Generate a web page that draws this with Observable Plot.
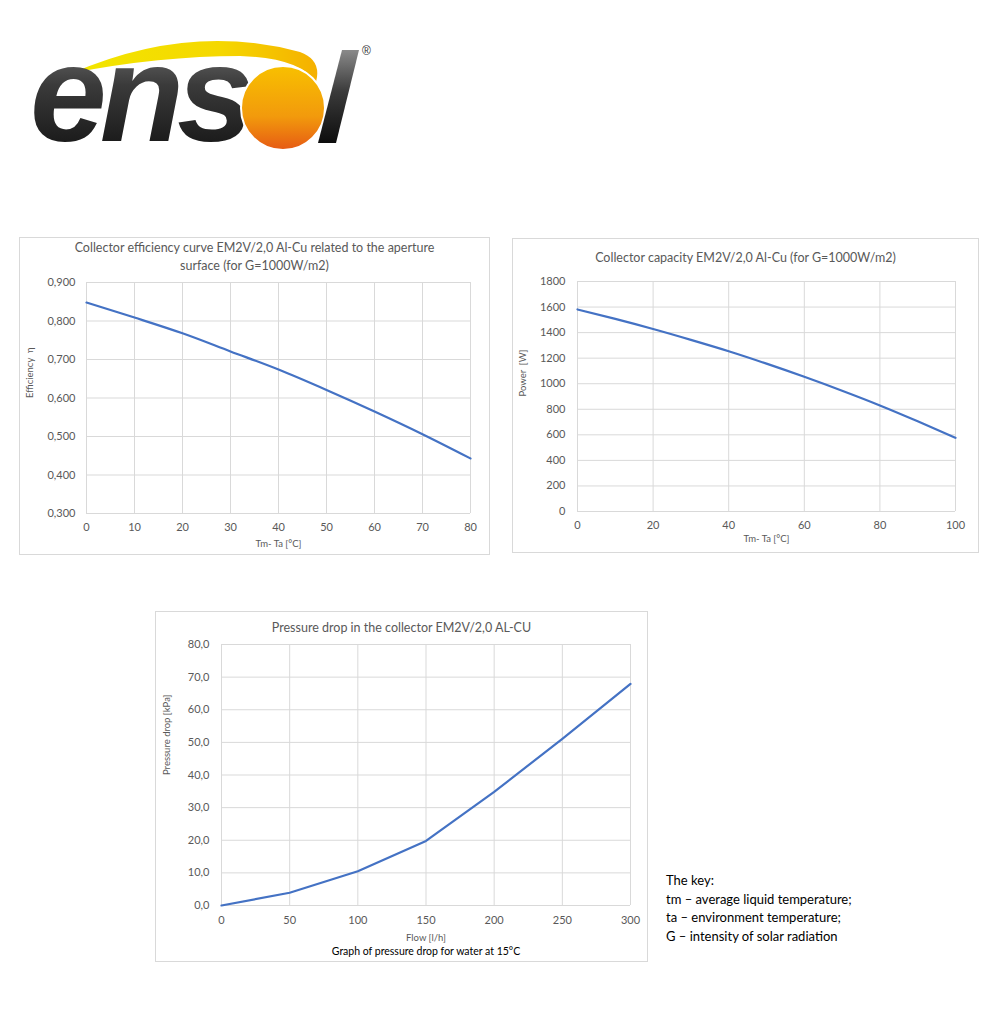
<!DOCTYPE html>
<html><head><meta charset="utf-8">
<script src="https://cdn.jsdelivr.net/npm/d3@7"></script>
<script src="https://cdn.jsdelivr.net/npm/@observablehq/plot@0.6"></script>
<style>
body{margin:0;background:#fff;font-family:Lato,"Open Sans",sans-serif;}
#page{position:relative;width:1000px;height:1035px;overflow:hidden;}
.box{position:absolute;border:1px solid #d9d9d9;box-sizing:border-box;}
.title{position:absolute;text-align:center;color:#595959;font-size:12.5px;line-height:18px;white-space:nowrap;}
.plotwrap{position:absolute;}
.plotwrap svg{background:transparent;max-width:none;}
#key{position:absolute;left:666px;top:871px;font-size:13px;line-height:18.6px;color:#000;}
#logo{position:absolute;left:0;top:0;}
</style></head>
<body><div id="page">
<svg id="logo" width="400" height="170" viewBox="0 0 400 170">
  <defs>
    <linearGradient id="gDark" x1="0" y1="0" x2="0" y2="1">
      <stop offset="0" stop-color="#8a8a8a"/><stop offset="0.45" stop-color="#3a3a3a"/><stop offset="1" stop-color="#0d0d0d"/>
    </linearGradient>
    <linearGradient id="gSun" x1="0" y1="0" x2="0" y2="1">
      <stop offset="0" stop-color="#f8c000"/><stop offset="0.6" stop-color="#f29a0c"/><stop offset="1" stop-color="#e65a14"/>
    </linearGradient>
    <linearGradient id="gSwoosh" x1="0" y1="0" x2="1" y2="0">
      <stop offset="0" stop-color="#f2e600"/><stop offset="0.6" stop-color="#f5d800"/><stop offset="1" stop-color="#f5b000"/>
    </linearGradient>
  </defs>
  <path d="M72 73 Q190 22 300 52 Q322 60 316 82 Q300 58 240 56 Q160 56 72 73 Z" fill="url(#gSwoosh)"/>
  <text x="30" y="141" font-family="Liberation Sans, Arial, sans-serif" font-weight="bold" font-style="italic" font-size="138" letter-spacing="-7" fill="url(#gDark)">ens</text>
  <circle cx="283" cy="108" r="42" fill="url(#gSun)" stroke="#fff" stroke-width="2"/>
  <polygon points="342,50 359,50 336,143 318,143" fill="url(#gDark)"/>
  <text x="362" y="55" font-family="Liberation Sans, Arial, sans-serif" font-size="12" fill="#333">®</text>
</svg>

<div class="box" style="left:19px;top:237px;width:471px;height:318px"></div>
<div class="title" style="left:19px;width:471px;top:239px">Collector efficiency curve EM2V/2,0 Al-Cu related to the aperture<br>surface (for G=1000W/m2)</div>
<div class="plotwrap" id="c1" style="left:19px;top:274px"></div>

<div class="box" style="left:512px;top:238px;width:467px;height:315px"></div>
<div class="title" style="left:512px;width:467px;top:249px">Collector capacity EM2V/2,0 Al-Cu (for G=1000W/m2)</div>
<div class="plotwrap" id="c2" style="left:512px;top:270px"></div>

<div class="box" style="left:155px;top:611px;width:493px;height:351px"></div>
<div class="title" style="left:155px;width:493px;top:619px">Pressure drop in the collector EM2V/2,0 AL-CU</div>
<div class="plotwrap" id="c3" style="left:155px;top:638px"></div>

<div id="key">The key:<br>tm – average liquid temperature;<br>ta – environment temperature;<br>G – intensity of solar radiation</div>
</div>
<script>
// ---- Data ----
const effX = [0, 10, 20, 30, 40, 50, 60, 70, 80];
const effY = [0.848, 0.809, 0.768, 0.721, 0.674, 0.621, 0.565, 0.506, 0.443];
const effXTicks = [0, 10, 20, 30, 40, 50, 60, 70, 80];
const effYTicks = [0.3, 0.4, 0.5, 0.6, 0.7, 0.8, 0.9];

const powX = [0, 10, 20, 30, 40, 50, 60, 70, 80, 90, 100];
const powY = [1581, 1507, 1428, 1343, 1254, 1157, 1054, 945, 830, 706, 577];
const powXTicks = [0, 20, 40, 60, 80, 100];
const powYTicks = [0, 200, 400, 600, 800, 1000, 1200, 1400, 1600, 1800];

const flowX = [0, 50, 100, 150, 200, 250, 300];
const flowY = [0, 3.9, 10.5, 19.8, 34.8, 51.1, 67.9];
const flowXTicks = [0, 50, 100, 150, 200, 250, 300];
const flowYTicks = [0, 10, 20, 30, 40, 50, 60, 70, 80];

const GRID = "#d9d9d9", TXT = "#595959", LINE = "#4472c4";
const comma = n => d => d.toFixed(n).replace(".", ",");

function chart({xs, ys, xt, yt, xdom, ydom, w, h, m, xfmt, yfmt, xlab, ylab, ylabDx, xlabDy, curve, ypad, xpad, extra}) {
  const data = xs.map((x, i) => ({x, y: ys[i]}));
  const marks = [
    Plot.gridX(xt, {stroke: GRID, strokeOpacity: 1, strokeWidth: 1}),
    Plot.gridY(yt, {stroke: GRID, strokeOpacity: 1, strokeWidth: 1}),
    Plot.axisX(xt, {tickSize: 0, tickPadding: xpad, fill: TXT, fontSize: 11, label: null, tickFormat: xfmt}),
    Plot.axisY(yt, {tickSize: 0, tickPadding: ypad, fill: TXT, fontSize: 11, label: null, tickFormat: yfmt}),
    Plot.line(data, {x: "x", y: "y", stroke: LINE, strokeWidth: 2.2, curve}),
    Plot.text([xlab], {frameAnchor: "bottom", dy: xlabDy, fill: TXT, fontSize: 9.5, lineAnchor: "middle"}),
    Plot.text([ylab], {frameAnchor: "left", dx: ylabDx, rotate: -90, fill: TXT, fontSize: 9.5, lineAnchor: "middle"})
  ];
  if (extra) marks.push(extra);
  return Plot.plot({
    width: w, height: h,
    marginLeft: m[0], marginRight: m[1], marginTop: m[2], marginBottom: m[3],
    style: {fontFamily: "Lato, 'Open Sans', sans-serif", background: "transparent"},
    x: {domain: xdom}, y: {domain: ydom},
    marks
  });
}

document.getElementById("c1").append(chart({
  xs: effX, ys: effY, xt: effXTicks, yt: effYTicks, xdom: [0, 80], ydom: [0.3, 0.9],
  w: 471, h: 281, m: [67, 20, 8, 42], xfmt: d => String(d), yfmt: comma(3),
  xlab: "Tm- Ta [°C]", ylab: "Efficiency  η", ylabDx: -57, xlabDy: 30, curve: "monotone-x", ypad: 11, xpad: 10
}));

document.getElementById("c2").append(chart({
  xs: powX, ys: powY, xt: powXTicks, yt: powYTicks, xdom: [0, 100], ydom: [0, 1800],
  w: 467, h: 283, m: [65, 24, 11, 42], xfmt: d => String(d), yfmt: d => String(d),
  xlab: "Tm- Ta [°C]", ylab: "Power  [W]", ylabDx: -55, xlabDy: 27, curve: "monotone-x", ypad: 12, xpad: 10
}));

document.getElementById("c3").append(chart({
  xs: flowX, ys: flowY, xt: flowXTicks, yt: flowYTicks, xdom: [0, 300], ydom: [0, 80],
  w: 493, h: 324, m: [66, 18, 6, 57], xfmt: d => String(d), yfmt: comma(1),
  xlab: "Flow [l/h]", ylab: "Pressure drop [kPa]", ylabDx: -55, xlabDy: 32, curve: "linear", ypad: 12, xpad: 11,
  extra: Plot.text(["Graph of pressure drop for water at 15°C"], {frameAnchor: "bottom", dy: 46, fill: "#000", fontSize: 10.5, lineAnchor: "middle"})
}));
</script>
</body></html>
